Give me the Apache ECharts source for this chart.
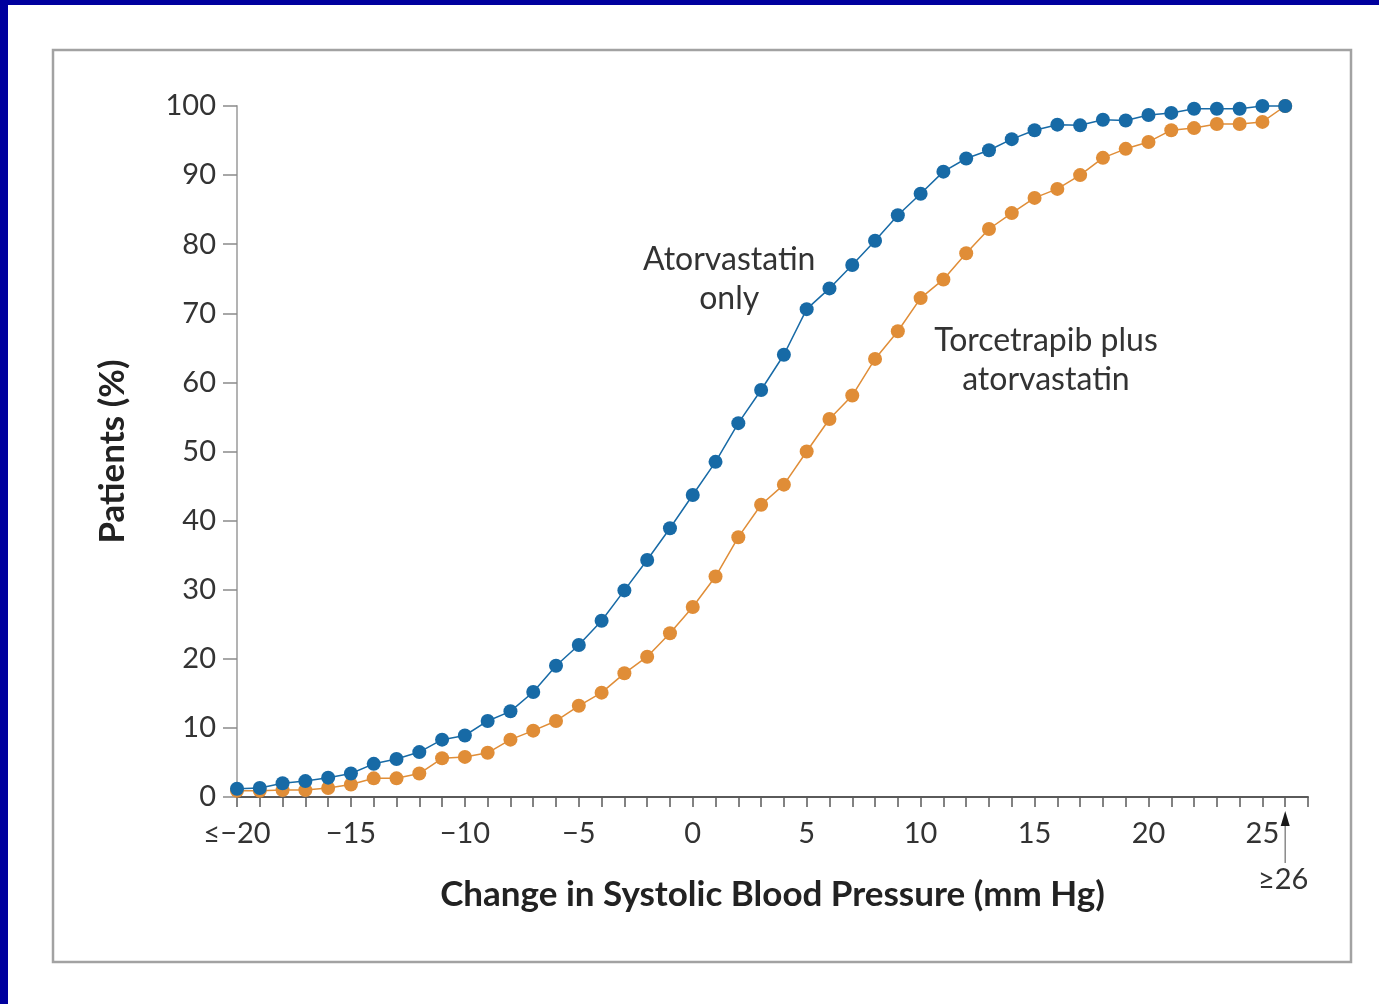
<!DOCTYPE html>
<html>
<head>
<meta charset="utf-8">
<title>Change in Systolic Blood Pressure</title>
<script src="https://cdn.jsdelivr.net/npm/echarts@6/dist/echarts.min.js"></script>
<style>
  html, body { margin: 0; padding: 0; background: #ffffff; }
  #chart { width: 1379px; height: 1004px; }
</style>
</head>
<body>
<div id="chart"></div>
<script>
// Change in systolic blood pressure (mm Hg), one point per 1 mm Hg step
const changeMmHg = [
  -20, -19, -18, -17, -16, -15, -14, -13, -12, -11,
  -10, -9, -8, -7, -6, -5, -4, -3, -2, -1,
  0, 1, 2, 3, 4, 5, 6, 7, 8, 9,
  10, 11, 12, 13, 14, 15, 16, 17, 18, 19,
  20, 21, 22, 23, 24, 25, 26
];

// Cumulative percentage of patients, atorvastatin only
const atorvastatinOnly = [
  1.2, 1.3, 2.0, 2.3, 2.8, 3.4, 4.8, 5.5, 6.5, 8.3,
  8.9, 11.0, 12.4, 15.2, 19.0, 22.0, 25.5, 29.9, 34.3, 38.9,
  43.7, 48.5, 54.1, 58.9, 64.0, 70.6, 73.6, 77.0, 80.5, 84.2,
  87.3, 90.5, 92.4, 93.6, 95.2, 96.5, 97.3, 97.2, 98.0, 97.9,
  98.7, 99.0, 99.6, 99.6, 99.6, 100, 100
];

// Cumulative percentage of patients, torcetrapib plus atorvastatin
const torcetrapibPlusAtorvastatin = [
  0.9, 0.9, 1.0, 1.0, 1.3, 1.8, 2.7, 2.7, 3.4, 5.6,
  5.8, 6.4, 8.3, 9.6, 11.0, 13.2, 15.1, 17.9, 20.3, 23.7,
  27.5, 31.9, 37.6, 42.3, 45.2, 50.0, 54.7, 58.1, 63.4, 67.4,
  72.2, 74.9, 78.7, 82.2, 84.5, 86.7, 88.0, 90.0, 92.5, 93.8,
  94.8, 96.5, 96.8, 97.4, 97.4, 97.7, 100
];

// Tick labels on the x axis
const xTickLabels = {
  '-20': '≤−20', '-15': '−15', '-10': '−10', '-5': '−5',
  '0': '0', '5': '5', '10': '10', '15': '15', '20': '20', '25': '25'
};

const seriesNames = ['Atorvastatin only', 'Torcetrapib plus atorvastatin'];
const seriesColors = ['#176aa6', '#e08d37'];

const textColor = '#333333';
const baseFont = 'Lato, "Open Sans", "Noto Sans", sans-serif';

const chart = echarts.init(document.getElementById('chart'), null, { renderer: 'canvas' });

function pairs(ys) {
  return changeMmHg.map((x, i) => [x, ys[i]]);
}

function lineSeries(name, ys, color, z) {
  return {
    name: name,
    type: 'line',
    data: pairs(ys),
    z: z,
    symbol: 'circle',
    symbolSize: 14,
    showAllSymbol: true,
    clip: false,
    lineStyle: { color: color, width: 1.5 },
    itemStyle: { color: color, borderWidth: 0 },
    emphasis: { disabled: true },
    animation: false
  };
}

chart.setOption({
  backgroundColor: '#ffffff',
  animation: false,
  grid: { left: 237, right: 71, top: 106, bottom: 207, containLabel: false },
  xAxis: {
    type: 'value',
    min: -20,
    max: 27,
    interval: 1,
    splitLine: { show: false },
    axisLine: { show: true, onZero: false, lineStyle: { color: '#5a5a5a', width: 2 } },
    axisTick: { show: true, inside: false, length: 10, lineStyle: { color: '#5a5a5a', width: 1.5 } },
    axisLabel: {
      show: true,
      margin: 22,
      color: textColor,
      fontFamily: baseFont,
      fontSize: 29,
      showMinLabel: true,
      showMaxLabel: true,
      formatter: function (v) {
        const key = String(Math.round(v));
        return xTickLabels[key] !== undefined ? xTickLabels[key] : '';
      }
    },
    name: 'Change in Systolic Blood Pressure (mm Hg)',
    nameLocation: 'middle',
    nameGap: 80,
    nameTextStyle: {
      color: '#222222',
      fontFamily: baseFont,
      fontWeight: 'bold',
      fontSize: 35
    }
  },
  yAxis: {
    type: 'value',
    min: 0,
    max: 100,
    interval: 10,
    splitLine: { show: false },
    axisLine: { show: true, onZero: false, lineStyle: { color: '#b3b3b3', width: 2 } },
    axisTick: { show: true, inside: false, length: 14, lineStyle: { color: '#8a8a8a', width: 1.5 } },
    axisLabel: {
      margin: 21,
      color: textColor,
      fontFamily: baseFont,
      fontSize: 29
    },
    name: 'Patients (%)',
    nameLocation: 'middle',
    nameGap: 107,
    nameRotate: 90,
    nameTextStyle: {
      color: '#222222',
      fontFamily: baseFont,
      fontWeight: 'bold',
      fontSize: 35
    }
  },
  series: [
    lineSeries(seriesNames[1], torcetrapibPlusAtorvastatin, seriesColors[1], 2),
    lineSeries(seriesNames[0], atorvastatinOnly, seriesColors[0], 3)
  ]
});

// Annotations anchored in data coordinates
function px(x, y) {
  return chart.convertToPixel({ xAxisIndex: 0, yAxisIndex: 0 }, [x, y]);
}

const atorvaLabel = px(1.6, 75);
const torceLabel = px(15.5, 63.2);
const openEnd = px(26, 0);

chart.setOption({
  graphic: [
    // page frame
    { type: 'rect', silent: true, z: -10,
      shape: { x: 0, y: 0, width: 1379, height: 5 }, style: { fill: '#00009e' } },
    { type: 'rect', silent: true, z: -10,
      shape: { x: 0, y: 0, width: 8, height: 1004 }, style: { fill: '#00009e' } },
    { type: 'rect', silent: true, z: -10,
      shape: { x: 53, y: 50, width: 1298, height: 912 },
      style: { fill: 'none', stroke: '#a2a2a2', lineWidth: 2.5 } },
    // series labels
    { type: 'text', silent: true, z: 10,
      x: atorvaLabel[0], y: atorvaLabel[1],
      style: {
        text: 'Atorvastatin\nonly',
        fill: textColor, font: '32px ' + baseFont,
        align: 'center', verticalAlign: 'middle', lineHeight: 39
      } },
    { type: 'text', silent: true, z: 10,
      x: torceLabel[0], y: torceLabel[1],
      style: {
        text: 'Torcetrapib plus\natorvastatin',
        fill: textColor, font: '32px ' + baseFont,
        align: 'center', verticalAlign: 'middle', lineHeight: 39
      } },
    // open-ended last category marker
    { type: 'line', silent: true, z: 10,
      shape: { x1: openEnd[0], y1: openEnd[1] + 66, x2: openEnd[0], y2: openEnd[1] + 26 },
      style: { stroke: '#8a8a8a', lineWidth: 1.5 } },
    { type: 'polygon', silent: true, z: 10,
      shape: { points: [
        [openEnd[0], openEnd[1] + 14],
        [openEnd[0] - 4.5, openEnd[1] + 29],
        [openEnd[0] + 4.5, openEnd[1] + 29]
      ] },
      style: { fill: '#1a1a1a' } },
    { type: 'text', silent: true, z: 10,
      x: openEnd[0] - 2, y: openEnd[1] + 83,
      style: {
        text: '≥26', fill: textColor, font: '29px ' + baseFont,
        align: 'center', verticalAlign: 'middle'
      } }
  ]
});
</script>
</body>
</html>
